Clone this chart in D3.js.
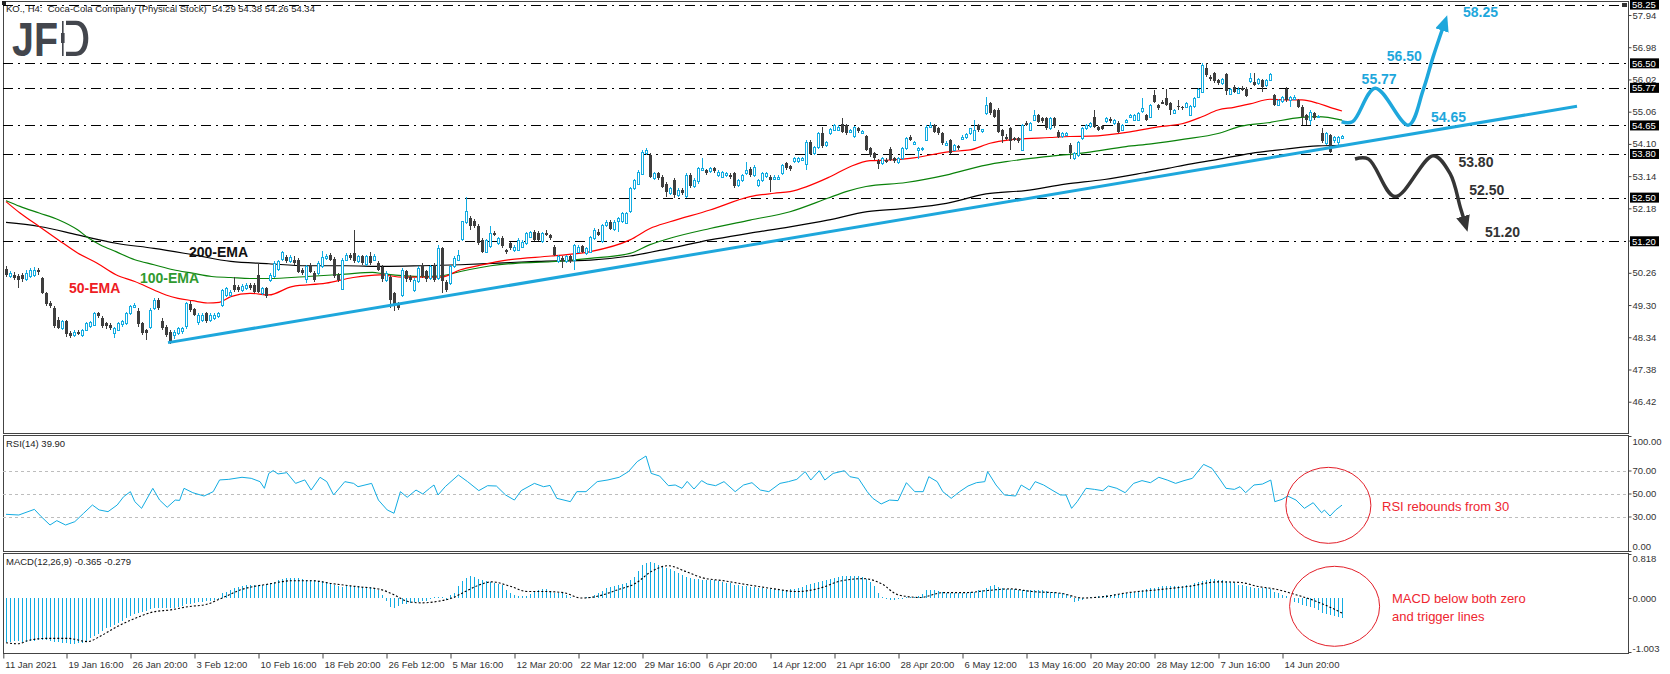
<!DOCTYPE html>
<html>
<head>
<meta charset="utf-8">
<script src="https://cdn.jsdelivr.net/npm/d3@7"></script>
<style>
  body { margin: 0; background: #fff; }
  svg { display: block; font-family: "Liberation Sans", Arial, sans-serif; }
</style>
</head>
<body>
<div id="chart"></div>
<script>
//========================================================================================================================
// KO H4 candles (index 0 = 11 Jan 2021)
const opens = [
  50.37,50.15,50.20,50.17,50.20,50.07,50.15,50.20,50.33,50.10,
  49.65,49.36,49.21,48.86,48.61,48.81,48.46,48.41,48.51,48.41,
  48.56,48.66,48.71,49.06,48.91,48.76,48.71,48.46,48.56,48.71,
  48.76,49.06,49.26,49.11,48.76,48.56,48.66,49.21,49.44,48.81,
  48.66,48.51,48.41,48.46,48.51,48.66,49.34,49.18,48.81,48.86,
  49.06,48.86,48.91,48.96,49.31,49.60,49.60,49.90,49.83,49.75,
  49.80,49.90,49.90,50.20,49.65,49.80,50.05,50.15,50.35,50.65,
  50.72,50.60,50.65,50.65,50.35,50.05,50.47,50.25,50.25,50.45,
  50.70,50.80,50.67,50.20,49.80,50.65,50.80,50.85,50.60,50.75,
  50.50,50.75,50.65,50.55,50.42,50.05,50.15,49.65,49.36,49.60,
  50.30,50.15,49.75,50.00,50.45,50.30,50.10,50.50,50.10,50.99,
  50.00,49.95,50.45,50.65,51.24,51.76,51.89,51.79,51.64,51.24,
  50.89,51.04,51.44,51.14,51.29,50.94,51.14,50.94,50.94,51.04,
  51.14,51.34,51.49,51.44,51.19,51.46,51.39,51.04,50.60,50.70,
  50.60,50.75,50.65,50.89,51.06,50.85,50.89,51.29,51.49,51.19,
  51.68,51.78,51.58,51.78,51.78,51.73,52.08,52.78,52.92,53.22,
  53.82,53.77,53.07,53.22,53.12,52.92,52.63,53.02,52.58,52.73,
  52.53,53.17,52.83,52.97,53.32,53.32,53.27,53.37,53.17,53.12,
  53.17,53.17,53.22,52.87,53.02,53.22,53.34,53.17,52.87,53.02,
  53.12,53.12,53.07,53.07,53.22,53.52,53.44,53.57,53.57,53.62,
  53.52,54.17,53.82,54.00,54.41,54.07,54.41,54.51,54.51,54.69,
  54.66,54.46,54.32,54.56,54.43,54.33,53.97,53.82,53.60,53.52,
  53.62,53.94,53.67,53.54,53.67,53.97,54.30,54.12,53.92,53.94,
  54.22,54.61,54.66,54.56,54.41,54.07,54.22,53.92,54.04,54.27,
  54.30,54.41,54.22,54.66,54.46,55.01,55.31,55.11,55.11,54.51,
  54.32,54.56,54.27,54.27,53.92,54.73,54.51,54.81,54.96,54.86,
  54.86,54.56,54.86,54.46,54.32,54.37,54.07,53.67,53.77,54.27,
  54.56,54.61,54.91,54.59,54.63,54.76,54.83,54.71,54.73,54.51,
  54.76,54.91,54.81,54.81,55.06,54.96,54.91,55.56,55.26,55.36,
  55.46,55.31,55.01,55.23,55.19,55.21,54.96,55.21,55.51,55.66,
  56.35,56.10,56.20,56.00,55.90,56.18,55.61,55.80,55.61,55.78,
  55.75,55.95,55.95,55.90,56.00,55.85,56.00,55.56,55.26,55.36,
  55.75,55.39,55.46,55.41,55.21,54.96,54.81,55.01,54.89,54.41,
  54.12,54.36,54.22,54.17,54.29
];
const highs = [
  50.45,50.30,50.28,50.22,50.26,50.35,50.40,50.42,50.40,50.15,
  49.70,49.42,49.26,48.95,48.85,48.85,48.52,48.55,48.56,48.60,
  48.80,48.82,49.10,49.08,48.96,48.80,48.75,48.66,48.80,48.86,
  49.10,49.30,49.36,49.20,48.80,48.60,49.20,49.50,49.50,48.90,
  48.70,48.56,48.56,48.66,48.66,49.40,49.42,49.22,49.05,49.05,
  49.10,49.06,49.05,49.10,49.78,49.85,49.75,50.15,49.90,49.92,
  49.95,49.95,49.95,50.55,49.85,49.85,50.25,50.60,50.65,50.92,
  50.80,50.78,50.75,50.70,50.40,50.50,50.55,50.30,50.60,50.90,
  50.82,50.85,50.72,50.25,50.70,50.85,50.85,51.54,50.80,50.80,
  50.80,50.89,50.82,50.60,50.48,50.30,50.20,49.70,49.40,50.40,
  50.35,50.20,50.10,50.45,50.55,50.35,50.50,50.55,51.09,51.04,
  50.05,50.50,50.75,50.94,51.79,52.53,51.95,51.85,51.70,51.30,
  51.28,51.64,51.50,51.33,51.35,50.98,51.18,51.10,51.30,51.25,
  51.48,51.52,51.55,51.50,51.48,51.55,51.42,51.10,50.80,50.75,
  50.80,50.80,51.12,51.10,51.10,51.02,51.36,51.60,51.56,51.72,
  51.82,51.83,51.82,51.92,52.06,52.08,52.83,53.06,53.31,53.92,
  53.98,53.82,53.27,53.26,53.18,52.98,52.82,53.08,52.78,52.78,
  53.22,53.22,53.07,53.40,53.67,53.36,53.42,53.42,53.32,53.30,
  53.26,53.24,53.26,53.06,53.20,53.57,53.40,53.46,53.06,53.26,
  53.26,53.16,53.16,53.16,53.50,53.57,53.48,53.72,53.72,53.72,
  54.22,54.22,54.04,54.45,54.61,54.20,54.56,54.68,54.65,54.86,
  54.70,54.54,54.62,54.61,54.52,54.38,54.02,53.86,53.64,53.70,
  53.67,54.02,53.72,53.70,54.02,54.32,54.36,54.20,54.00,54.00,
  54.66,54.76,54.70,54.60,54.45,54.18,54.26,54.10,54.08,54.36,
  54.42,54.58,54.81,54.70,54.55,55.51,55.36,55.15,55.16,54.55,
  54.40,54.60,54.32,54.32,54.70,54.78,54.74,55.11,55.00,54.90,
  54.90,54.90,54.90,54.50,54.44,54.46,54.12,53.86,54.20,54.60,
  54.70,54.75,55.10,54.63,54.67,54.90,54.90,54.85,54.78,54.70,
  54.84,55.00,55.00,55.05,55.46,55.00,55.30,55.71,55.30,55.40,
  55.73,55.35,55.14,55.41,55.24,55.36,55.26,55.50,55.78,56.52,
  56.52,56.15,56.24,56.04,56.05,56.22,55.78,55.84,55.80,55.82,
  55.79,56.20,56.20,56.06,56.04,56.04,56.22,55.60,55.44,55.52,
  55.80,55.52,55.55,55.45,55.25,55.00,55.10,55.05,54.96,54.56,
  54.45,54.40,54.34,54.35,54.38
];
const lows = [
  50.15,50.10,50.05,49.82,50.00,50.02,50.10,50.15,50.20,49.62,
  49.28,49.20,48.62,48.58,48.55,48.36,48.32,48.36,48.40,48.36,
  48.52,48.62,48.68,48.92,48.62,48.60,48.56,48.31,48.52,48.66,
  48.72,49.01,49.20,48.66,48.42,48.26,48.60,49.15,49.15,48.56,
  48.36,48.14,48.30,48.40,48.45,48.60,49.10,48.96,48.72,48.80,
  48.76,48.80,48.85,48.90,49.25,49.55,49.55,49.70,49.70,49.70,
  49.75,49.75,49.65,49.65,49.60,49.50,50.00,50.10,50.30,50.60,
  50.55,50.55,50.50,50.25,50.20,49.95,50.25,50.00,50.20,50.40,
  50.65,50.60,50.10,49.98,49.75,50.60,50.65,50.55,50.55,50.50,
  50.45,50.50,50.60,50.30,50.00,50.00,49.21,49.11,49.15,49.55,
  50.00,50.00,49.70,49.95,50.10,50.00,50.05,50.00,50.05,49.65,
  49.70,49.90,50.40,50.60,51.20,51.70,51.55,51.58,51.10,50.85,
  50.85,51.00,51.35,51.10,51.00,50.82,50.95,50.88,50.90,51.00,
  51.10,51.30,51.20,51.20,51.15,51.35,51.25,50.75,50.55,50.40,
  50.55,50.55,50.35,50.85,50.85,50.80,50.85,51.25,51.35,51.15,
  51.62,51.55,51.52,51.49,51.74,51.70,52.03,52.72,52.88,53.18,
  53.78,53.08,53.02,53.02,52.78,52.53,52.58,52.48,52.53,52.58,
  52.50,52.78,52.78,52.92,53.28,53.18,53.22,53.22,53.12,53.08,
  53.12,53.06,52.78,52.83,52.98,53.18,53.12,53.12,52.82,52.98,
  53.08,52.68,53.02,53.02,53.18,53.32,53.30,53.52,53.52,53.58,
  53.32,53.77,53.78,53.96,53.98,54.02,54.38,54.47,54.47,54.42,
  54.38,54.42,54.28,54.42,54.40,53.88,53.72,53.62,53.35,53.48,
  53.52,53.58,53.52,53.50,53.62,53.92,54.18,54.08,53.65,53.90,
  54.18,54.58,54.42,54.38,54.08,54.04,53.80,53.88,53.92,54.24,
  54.26,54.37,54.18,54.46,54.42,54.97,54.97,54.88,54.42,54.12,
  54.22,53.92,54.18,54.12,53.88,54.62,54.47,54.78,54.72,54.72,
  54.52,54.52,54.56,54.28,54.28,54.34,53.64,53.62,53.72,54.22,
  54.52,54.57,54.57,54.47,54.50,54.72,54.72,54.67,54.42,54.47,
  54.72,54.88,54.77,54.77,55.02,54.77,54.87,55.33,55.12,55.28,
  55.22,54.96,54.98,55.11,55.12,55.17,54.92,55.17,55.47,55.62,
  56.10,55.98,55.92,55.86,55.86,55.56,55.58,55.62,55.58,55.68,
  55.50,55.90,55.82,55.86,55.66,55.81,55.96,55.22,55.22,55.32,
  55.36,55.19,55.42,55.16,54.66,54.66,54.66,54.82,54.86,54.14,
  54.08,53.82,54.12,54.02,54.26
];
const closes = [
  50.20,50.25,50.10,50.05,50.07,50.25,50.33,50.35,50.26,49.65,
  49.31,49.26,48.66,48.61,48.81,48.41,48.36,48.51,48.45,48.56,
  48.76,48.78,49.06,48.96,48.66,48.66,48.61,48.61,48.76,48.81,
  49.06,49.26,49.31,48.71,48.46,48.46,49.16,49.46,49.21,48.61,
  48.41,48.21,48.51,48.61,48.61,49.36,49.16,49.01,49.01,49.01,
  48.81,49.01,49.01,49.06,49.75,49.80,49.70,49.75,49.75,49.87,
  49.90,49.80,49.70,49.70,49.80,49.55,50.20,50.55,50.60,50.87,
  50.60,50.73,50.55,50.30,50.25,50.45,50.30,50.05,50.55,50.73,
  50.77,50.65,50.15,50.05,50.65,50.80,50.70,50.60,50.75,50.55,
  50.75,50.55,50.77,50.35,50.05,50.25,49.46,49.31,49.21,50.35,
  50.05,50.05,50.05,50.40,50.15,50.05,50.45,50.05,50.99,50.00,
  49.75,50.45,50.70,50.80,51.79,52.09,51.64,51.64,51.14,50.89,
  51.24,51.44,51.39,51.29,51.04,50.89,50.99,51.04,51.24,51.19,
  51.44,51.49,51.24,51.24,51.44,51.39,51.29,50.80,50.75,50.60,
  50.75,50.60,51.09,51.04,50.89,50.99,51.34,51.54,51.39,51.68,
  51.78,51.58,51.78,51.88,52.03,52.03,52.78,53.02,53.27,53.87,
  53.92,53.12,53.22,53.07,52.83,52.68,52.78,52.58,52.73,52.63,
  53.17,52.83,53.02,53.37,53.37,53.22,53.37,53.27,53.27,53.27,
  53.22,53.12,52.83,53.02,53.17,53.32,53.17,53.42,53.02,53.22,
  53.22,53.02,53.12,53.12,53.47,53.37,53.34,53.67,53.67,53.67,
  54.17,53.82,54.00,54.41,54.02,54.17,54.53,54.66,54.61,54.46,
  54.41,54.51,54.59,54.46,54.49,53.92,53.77,53.67,53.52,53.67,
  53.57,53.62,53.57,53.67,53.97,54.27,54.22,54.17,53.97,53.97,
  54.61,54.66,54.46,54.41,54.12,54.14,53.82,54.07,53.97,54.32,
  54.40,54.56,54.51,54.51,54.53,55.26,55.01,54.91,54.46,54.32,
  54.27,54.17,54.22,54.17,54.66,54.66,54.71,54.96,54.76,54.76,
  54.56,54.86,54.61,54.32,54.41,54.43,53.82,53.82,54.17,54.56,
  54.66,54.71,54.61,54.51,54.53,54.86,54.76,54.81,54.46,54.66,
  54.81,54.96,54.96,55.01,55.16,54.81,55.26,55.36,55.16,55.31,
  55.26,55.11,55.11,55.19,55.16,55.33,55.23,55.46,55.75,56.45,
  56.15,56.05,55.95,55.90,56.02,55.66,55.75,55.66,55.73,55.71,
  55.53,56.05,55.85,56.02,55.80,56.00,56.18,55.26,55.41,55.49,
  55.41,55.49,55.51,55.21,54.91,54.81,55.06,54.86,54.93,54.17,
  54.41,53.86,54.30,54.31,54.34
];

// moving averages, sampled along the lines as [bar, price]
const ema50 = [[0,52.38],[3.5,52.04],[8.3,51.64],[13.1,51.24],[17.9,50.85],[22.7,50.55],[27.5,50.2],[32.2,50.0],[37,49.75],[40,49.6],[43,49.5],[46.6,49.43],[50.4,49.36],[53.3,49.38],[56.2,49.55],[61,49.65],[65.7,49.6],[71.5,49.85],[80,49.95],[86.8,50.12],[93.5,50.2],[99.2,50.13],[108.8,50.13],[113.6,50.35],[118.3,50.48],[126,50.65],[136.3,50.76],[146.1,50.89],[156,51.24],[161,51.58],[166,51.78],[176,52.13],[186,52.53],[192,52.63],[196,52.68],[206,53.12],[211,53.42],[216,53.6],[221,53.62],[226,53.67],[236,53.87],[241,53.92],[246,54.12],[251,54.22],[261,54.29],[266,54.32],[271,54.33],[281,54.46],[288,54.61],[294,54.7],[299,54.91],[303,55.11],[307,55.19],[311,55.29],[316,55.43],[320,55.41],[324,55.41],[328,55.31],[331,55.19],[334,55.08]];
const ema100 = [[0,52.41],[3.5,52.24],[8.3,52.04],[13.1,51.84],[17.9,51.54],[20.8,51.28],[23.6,51.09],[27.5,50.89],[32.2,50.65],[37,50.5],[41.8,50.35],[46.6,50.25],[51.4,50.15],[56.2,50.12],[61,50.09],[65.7,50.09],[75.3,50.15],[84.9,50.22],[91.6,50.27],[94.4,50.23],[104,50.15],[108.8,50.17],[113.6,50.3],[121.2,50.47],[128,50.55],[136.3,50.59],[146,50.69],[156,50.84],[161,51.1],[166,51.29],[176,51.58],[186,51.83],[196,52.08],[205.4,52.48],[210,52.68],[215,52.83],[225,52.95],[235,53.17],[245,53.47],[250,53.57],[260,53.72],[270,53.84],[280,54.02],[286.3,54.1],[294.6,54.24],[303,54.41],[308.8,54.63],[315.4,54.73],[323.8,54.89],[328,54.91],[334,54.81]];
const ema200 = [[0,51.76],[8.3,51.64],[17.9,51.39],[27.5,51.14],[37,50.99],[46.6,50.8],[56.2,50.6],[65.7,50.53],[75.3,50.47],[84.9,50.47],[94.4,50.45],[104,50.47],[113.6,50.5],[123.1,50.55],[132.7,50.6],[146.1,50.64],[156,50.76],[166,50.99],[176,51.24],[186,51.44],[196,51.63],[205.4,51.83],[215.3,52.08],[225.2,52.18],[235.1,52.33],[245,52.61],[254.8,52.71],[264.8,52.9],[274.6,53.04],[284.5,53.24],[290.5,53.37],[294.6,53.47],[303,53.64],[311.3,53.82],[319.6,53.94],[328,54.04],[334,54.06]];

// RSI(14), sampled along the line as [bar, value]
const rsi = [[0,31.9],[3.2,31.3],[5.5,34.2],[7.1,36.2],[8.8,29.9],[11,22.6],[12.7,26.4],[14.9,22.6],[17.2,25.5],[19.4,32.8],[21.6,40],[23.3,35.7],[25.5,34.2],[27.8,40],[29.4,47.2],[31.1,51.6],[32.2,42.9],[33.9,37.1],[36.7,54.5],[38.4,44.3],[40.3,38],[42.3,44.3],[43.4,44],[44.5,54.5],[46.7,50.7],[49.5,47.8],[51.8,51.6],[53.4,61.8],[55.7,62.3],[59,64.1],[61.3,63.2],[63.5,60.3],[64.6,54.5],[65.7,67.5],[66.8,69.9],[68,67],[70.2,68.1],[72.4,58.8],[74.7,61.8],[76.3,53],[78.5,64.1],[80.2,60.3],[81.9,48.7],[84.7,60.3],[86.9,58.8],[88,55.9],[91.4,58.8],[93.1,44.3],[95.3,35.7],[97,32.8],[98.6,51.6],[100.3,46.7],[102.5,53],[104.2,49.6],[105.9,54.5],[107,57.4],[108,48.7],[109.8,55.9],[113.1,66.1],[115.4,60.3],[118.2,52.5],[120.4,56.8],[122.6,56.5],[124.9,48.7],[127.1,44.3],[128.8,52.5],[132.1,58.8],[134.4,55.9],[136,57],[137.7,45.8],[141.1,42.9],[142.7,51.6],[145,51.6],[147.8,60.3],[150.5,61.8],[153.3,64.1],[155.6,69],[157.8,77.7],[160,82.6],[161.3,67.5],[163.4,65.2],[165.6,56.8],[167.3,57.4],[169,54.5],[170.3,60.5],[172,53.9],[173.9,61.2],[175.3,58.3],[177.4,56.8],[179.5,60.3],[182.3,51.6],[184.4,57.4],[186.5,59.4],[188.6,53],[190.7,51.6],[193.5,58.8],[195.6,60.3],[197.7,62.3],[199.8,69],[201.2,61.7],[203.3,69.8],[204.7,61.7],[206.8,67.5],[209.6,69.8],[211,64.6],[213.1,63.2],[215.3,51.6],[216.7,45.8],[218.8,40.9],[220.9,44.3],[223,43.8],[225.1,59.4],[227.2,51.6],[229.3,51.6],[230.7,64.6],[232.8,60.3],[234.2,51.6],[236.3,45.8],[238.4,51.6],[240.5,56.5],[242.6,59.4],[244.7,60.3],[245.4,69],[247.5,57.4],[249.6,48.7],[252.4,47.8],[253.8,57.4],[255.9,53],[257.3,60.3],[259.4,57.4],[261.5,53],[263.6,48.7],[265,48.7],[266.4,37.1],[267.8,42.9],[270,54.5],[272.1,53.6],[274.2,52.4],[275.6,56.5],[277.7,54.5],[279.8,50.7],[281.9,58.8],[284,61.2],[286.1,59.4],[288.2,64.1],[290.3,61.7],[292.4,58.8],[294.5,61.2],[296.6,63.2],[299.4,75.3],[301.5,71.9],[303.6,61.7],[305,54.5],[307.1,53.6],[308.5,55.9],[309.9,50.7],[312,57.4],[314.1,58.2],[316.2,61.7],[317.2,42.9],[319,44.9],[320.4,47.8],[322.5,44.3],[324.6,37.1],[326.8,42],[328.9,33.3],[329.6,35.6],[331,30.4],[332.4,35.6],[334,39.9]];

// MACD(12,26,9) main value per bar (histogram) and signal line samples
const macdMain = [
  -0.81,-0.81,-0.80,-0.80,-0.81,-0.81,-0.80,-0.79,-0.78,-0.78,
  -0.78,-0.79,-0.81,-0.82,-0.83,-0.84,-0.85,-0.85,-0.84,-0.83,
  -0.81,-0.75,-0.70,-0.66,-0.61,-0.56,-0.53,-0.50,-0.47,-0.42,
  -0.38,-0.33,-0.29,-0.27,-0.26,-0.24,-0.21,-0.19,-0.19,-0.19,
  -0.19,-0.19,-0.18,-0.16,-0.14,-0.12,-0.11,-0.09,-0.08,-0.07,
  -0.06,-0.05,-0.04,-0.02,0.09,0.11,0.14,0.18,0.20,0.23,
  0.24,0.24,0.24,0.24,0.25,0.26,0.27,0.30,0.34,0.36,
  0.38,0.38,0.38,0.37,0.35,0.34,0.33,0.33,0.32,0.32,
  0.30,0.27,0.25,0.23,0.21,0.22,0.22,0.22,0.22,0.21,
  0.21,0.20,0.18,0.14,0.06,-0.05,-0.16,-0.19,-0.14,-0.12,
  -0.11,-0.10,-0.08,-0.07,-0.06,-0.06,-0.02,0.02,0.01,0.01,
  -0.03,0.06,0.09,0.22,0.32,0.37,0.40,0.39,0.36,0.33,
  0.32,0.30,0.28,0.26,0.24,0.15,0.09,0.06,0.04,0.04,
  0.04,0.08,0.13,0.15,0.16,0.16,0.12,0.09,0.10,0.11,
  0.06,0.01,0.00,0.00,0.00,0.01,0.01,0.05,0.09,0.13,
  0.18,0.20,0.22,0.24,0.26,0.27,0.33,0.39,0.50,0.62,
  0.66,0.67,0.66,0.62,0.59,0.56,0.53,0.50,0.46,0.43,
  0.39,0.38,0.36,0.35,0.34,0.33,0.33,0.33,0.31,0.30,
  0.28,0.27,0.25,0.24,0.23,0.22,0.21,0.20,0.19,0.18,
  0.17,0.17,0.16,0.15,0.15,0.15,0.16,0.17,0.18,0.21,
  0.25,0.26,0.28,0.29,0.31,0.34,0.36,0.38,0.39,0.40,
  0.40,0.40,0.40,0.40,0.39,0.36,0.30,0.22,0.09,0.01,
  -0.02,-0.03,-0.03,-0.02,-0.01,0.01,0.01,0.02,0.04,0.08,
  0.14,0.14,0.14,0.13,0.12,0.10,0.10,0.10,0.10,0.10,
  0.10,0.11,0.12,0.14,0.15,0.18,0.22,0.25,0.21,0.18,
  0.17,0.16,0.16,0.15,0.15,0.15,0.15,0.14,0.14,0.14,
  0.13,0.12,0.11,0.10,0.10,0.07,0.04,-0.07,-0.06,-0.03,
  0.00,0.01,0.01,0.03,0.04,0.05,0.06,0.07,0.07,0.08,
  0.09,0.10,0.11,0.12,0.14,0.16,0.18,0.19,0.21,0.22,
  0.22,0.22,0.22,0.22,0.23,0.24,0.25,0.27,0.29,0.32,
  0.34,0.36,0.35,0.34,0.33,0.31,0.29,0.27,0.25,0.24,
  0.22,0.20,0.18,0.18,0.18,0.18,0.17,0.12,0.09,0.06,
  0.03,-0.02,-0.07,-0.10,-0.13,-0.15,-0.17,-0.19,-0.23,-0.27,
  -0.30,-0.32,-0.34,-0.35,-0.365
];
const macdSignal = [[0,-0.83],[3,-0.85],[5.5,-0.79],[10,-0.75],[15.5,-0.75],[20.5,-0.81],[23.3,-0.72],[27.8,-0.53],[32.2,-0.38],[36.7,-0.26],[41.2,-0.22],[45.6,-0.16],[50,-0.12],[53.4,-0.02],[59,0.16],[65.7,0.26],[71.3,0.32],[76.9,0.32],[81.3,0.27],[88,0.21],[93.6,0.16],[97,0.06],[100.3,-0.06],[103.7,-0.09],[108.1,-0.06],[111.5,0.0],[114.8,0.12],[118.2,0.24],[121.5,0.30],[126,0.22],[130.4,0.12],[134.9,0.12],[139.4,0.10],[143.8,0.0],[148.3,0.04],[152.8,0.15],[157.3,0.27],[161.5,0.50],[165.5,0.60],[169.7,0.50],[173.9,0.38],[179.5,0.32],[185.1,0.25],[192.1,0.17],[197.7,0.12],[203.3,0.18],[208.9,0.32],[214.5,0.36],[218.8,0.27],[223,0.06],[228.6,0.01],[234.2,0.10],[239.8,0.10],[245.4,0.14],[251,0.17],[256.6,0.12],[263.6,0.09],[269.2,0.0],[274.9,0.03],[280.5,0.10],[287.5,0.15],[295.9,0.22],[302.9,0.30],[308.5,0.29],[312.7,0.22],[318.3,0.15],[322.5,0.06],[326.8,-0.04],[331,-0.17],[334,-0.279]];

// horizontal levels and axis ticks
const levels = [58.25, 56.50, 55.77, 54.65, 53.80, 52.50, 51.20];
const priceTicks = [57.94, 56.98, 56.02, 55.06, 54.10, 53.14, 52.18, 51.22, 50.26, 49.30, 48.34, 47.38, 46.42];
const timeTickBars = [-0.8, 15, 31, 47, 63, 79, 95, 111, 127, 143, 159, 175, 191, 207, 223, 239, 255, 271, 287, 303, 319];
const timeLabels = ["11 Jan 2021", "19 Jan 16:00", "26 Jan 20:00", "3 Feb 12:00", "10 Feb 16:00", "18 Feb 20:00", "26 Feb 12:00",
  "5 Mar 16:00", "12 Mar 20:00", "22 Mar 12:00", "29 Mar 16:00", "6 Apr 20:00", "14 Apr 12:00", "21 Apr 16:00",
  "28 Apr 20:00", "6 May 12:00", "13 May 16:00", "20 May 20:00", "28 May 12:00", "7 Jun 16:00", "14 Jun 20:00"];

// drawn annotations: trend line and the two scenario arrows, as [bar, price]
const trendLine = [[40.5, 48.18], [392.75, 55.22]];
const bullPath = [[333.9,54.76],[336.6,54.76],[342.3,55.76],[350.6,54.66],[354.3,55.71],[356.8,56.70],[359.4,57.62]];
const bearPath = [[337.25,53.65],[340.6,53.65],[347.25,52.53],[356.8,53.75],[361,53.22],[363.6,52.2],[364.6,51.8]];
const bullLabels = [["58.25", 364.25, 57.89], ["56.50", 345.2, 56.57], ["55.77", 338.9, 55.88], ["54.65", 356.25, 54.76]];
const bearLabels = [["53.80", 363.1, 53.40], ["52.50", 365.8, 52.58], ["51.20", 369.75, 51.32]];
const emaLabels = [["200-EMA", 45.75, 50.73, "#111"], ["100-EMA", 33.5, 49.96, "#2f9a2f"], ["50-EMA", 15.75, 49.66, "#ee1c24"]];

//========================================================================================================================
const W = 1670, H = 674;
const left = 3, right = 1628;
const mainP = { top: 1, bottom: 433 }, rsiP = { top: 435, bottom: 551 }, macdP = { top: 553, bottom: 653 };
const cyan = "#12ace2", dark = "#3e3e3e", blue = "#1ea7dc";

const svg = d3.select("#chart").append("svg").attr("width", W).attr("height", H);
svg.append("rect").attr("width", W).attr("height", H).attr("fill", "#fff");

const x = d3.scaleLinear().domain([0, 334]).range([6, 1342]);
const y = d3.scaleLinear().domain([58.357, 45.488]).range([1, 433]);
const yRsi = d3.scaleLinear().domain([0, 100]).range([551, 436]);
const yMacd = d3.scaleLinear().domain([-1.003, 0.818]).range([652, 554]);

svg.append("defs").append("clipPath").attr("id", "mainClip")
  .append("rect").attr("x", left).attr("y", mainP.top).attr("width", right - left).attr("height", mainP.bottom - mainP.top);

const defs = svg.select("defs");
[["arrowBlue", blue], ["arrowDark", "#353535"]].forEach(([id, col]) => {
  defs.append("marker").attr("id", id).attr("viewBox", "0 0 16 14")
    .attr("markerUnits", "userSpaceOnUse").attr("markerWidth", 16).attr("markerHeight", 14)
    .attr("refX", 5).attr("refY", 7).attr("orient", "auto")
    .append("path").attr("d", "M0,0 L16,7 L0,14 Z").attr("fill", col);
});

//========================================================================================================================
// panel frames
[mainP, rsiP, macdP].forEach(p => {
  svg.append("rect").attr("x", left + 0.5).attr("y", p.top + 0.5)
    .attr("width", right - left).attr("height", p.bottom - p.top)
    .attr("fill", "none").attr("stroke", "#444").attr("stroke-width", 1);
});

const plot = svg.append("g").attr("clip-path", "url(#mainClip)");

// dash-dot support/resistance levels
plot.selectAll(".level").data(levels).enter().append("line")
  .attr("x1", left).attr("x2", right)
  .attr("y1", d => Math.round(y(d)) + 0.5).attr("y2", d => Math.round(y(d)) + 0.5)
  .attr("stroke", "#000").attr("stroke-width", 1).attr("stroke-dasharray", "10,5,2,5");

// moving averages
const emaLine = d3.line().x(d => x(d[0])).y(d => y(d[1])).curve(d3.curveMonotoneX);
plot.append("path").datum(ema200).attr("d", emaLine).attr("fill", "none").attr("stroke", "#000").attr("stroke-width", 1.2);
plot.append("path").datum(ema100).attr("d", emaLine).attr("fill", "none").attr("stroke", "#0a820a").attr("stroke-width", 1.2);
plot.append("path").datum(ema50).attr("d", emaLine).attr("fill", "none").attr("stroke", "#f00").attr("stroke-width", 1.2);

// candles
const idx = d3.range(closes.length);
plot.selectAll(".wick").data(idx).enter().append("line")
  .attr("x1", i => x(i) + 0.5).attr("x2", i => x(i) + 0.5)
  .attr("y1", i => y(highs[i])).attr("y2", i => y(lows[i]))
  .attr("stroke", i => closes[i] >= opens[i] ? cyan : dark).attr("stroke-width", 1)
  .attr("shape-rendering", "crispEdges");
plot.selectAll(".body").data(idx).enter().append("rect")
  .attr("x", i => closes[i] >= opens[i] ? x(i) - 0.5 : x(i) - 1)
  .attr("y", i => Math.round(y(Math.max(opens[i], closes[i]))) + (closes[i] >= opens[i] ? 0.5 : 0))
  .attr("width", i => closes[i] >= opens[i] ? 2 : 3)
  .attr("height", i => Math.max(1, Math.round(Math.abs(y(opens[i]) - y(closes[i])))))
  .attr("fill", i => closes[i] >= opens[i] ? "#fff" : dark)
  .attr("stroke", i => closes[i] >= opens[i] ? cyan : "none")
  .attr("shape-rendering", "crispEdges");

// trend line
plot.append("line")
  .attr("x1", x(trendLine[0][0])).attr("y1", y(trendLine[0][1]))
  .attr("x2", x(trendLine[1][0])).attr("y2", y(trendLine[1][1]))
  .attr("stroke", blue).attr("stroke-width", 3);

// scenario arrows
const pathLine = d3.line().x(d => x(d[0])).y(d => y(d[1])).curve(d3.curveCatmullRom.alpha(0.5));
plot.append("path").datum(bullPath).attr("d", pathLine).attr("fill", "none")
  .attr("stroke", blue).attr("stroke-width", 3.5).attr("marker-end", "url(#arrowBlue)");
plot.append("path").datum(bearPath).attr("d", pathLine).attr("fill", "none")
  .attr("stroke", "#353535").attr("stroke-width", 3.5).attr("marker-end", "url(#arrowDark)");

plot.selectAll(".bullLbl").data(bullLabels).enter().append("text")
  .attr("x", d => x(d[1])).attr("y", d => y(d[2])).text(d => d[0])
  .attr("fill", blue).style("font-size", "14px").style("font-weight", "bold");
plot.selectAll(".bearLbl").data(bearLabels).enter().append("text")
  .attr("x", d => x(d[1])).attr("y", d => y(d[2])).text(d => d[0])
  .attr("fill", "#333").style("font-size", "14px").style("font-weight", "bold");
plot.selectAll(".emaLbl").data(emaLabels).enter().append("text")
  .attr("x", d => x(d[1])).attr("y", d => y(d[2])).text(d => d[0])
  .attr("fill", d => d[3]).style("font-size", "14px").style("font-weight", "bold");

//========================================================================================================================
// header + logo
svg.append("rect").attr("x", 2).attr("y", 1).attr("width", 4).attr("height", 4).attr("fill", "#222");
svg.append("rect").attr("x", 1622).attr("y", 3).attr("width", 5).attr("height", 4).attr("fill", "#333");
svg.append("text").attr("x", 6).attr("y", 12).attr("fill", "#222").style("font-size", "9.5px")
  .style("white-space", "pre").text("KO., H4:  Coca-Cola Company (Physical Stock)  54.29 54.38 54.26 54.34");

const logo = svg.append("g").attr("fill", "#43464d");
logo.append("text").attr("x", 12).attr("y", 56).attr("textLength", 46).attr("lengthAdjust", "spacingAndGlyphs")
  .style("font-size", "49px").style("font-weight", "bold").text("JF");
logo.append("rect").attr("x", 62).attr("y", 21).attr("width", 1.6).attr("height", 35);
logo.append("rect").attr("x", 61).attr("y", 33).attr("width", 3.6).attr("height", 10);
logo.append("path").attr("d", "M66,20.7 L76,20.7 C84,20.7 88.3,28 88.3,38.3 C88.3,48.6 84,56 76,56 L66,56 L66,51.7 L75.5,51.7 C80.5,51.7 83.3,46 83.3,38.3 C83.3,30.6 80.5,25 75.5,25 L66,25 Z");

//========================================================================================================================
// price axis
const priceAxis = svg.append("g").attr("transform", `translate(${right + 0.5},0)`)
  .call(d3.axisRight(y).tickValues(priceTicks).tickSize(3).tickFormat(d => d.toFixed(2)));
priceAxis.select(".domain").remove();
priceAxis.selectAll("line").attr("stroke", "#444");
priceAxis.selectAll("text").attr("x", 4).attr("fill", "#333").style("font-size", "9.5px").style("font-family", "Liberation Sans, Arial");

const tags = svg.append("g");
tags.selectAll("rect").data(levels).enter().append("rect")
  .attr("x", right + 2).attr("y", d => y(d) - 5).attr("width", 29).attr("height", 10).attr("fill", "#000");
tags.selectAll("text").data(levels).enter().append("text")
  .attr("x", right + 4).attr("y", d => y(d)).attr("dy", "0.35em").text(d => d.toFixed(2))
  .attr("fill", "#fff").style("font-size", "9.5px");

//========================================================================================================================
// RSI panel
svg.selectAll(".rsiLvl").data([70, 50, 30]).enter().append("line")
  .attr("x1", left).attr("x2", right).attr("y1", d => Math.round(yRsi(d)) + 0.5).attr("y2", d => Math.round(yRsi(d)) + 0.5)
  .attr("stroke", "#bdbdbd").attr("stroke-dasharray", "3,3");
svg.append("path").datum(rsi)
  .attr("d", d3.line().x(d => x(d[0])).y(d => yRsi(d[1])))
  .attr("fill", "none").attr("stroke", cyan).attr("stroke-width", 1);
svg.append("text").attr("x", 6).attr("y", 447).attr("fill", "#222").style("font-size", "9.5px").text("RSI(14) 39.90");

const rsiAxis = svg.append("g").attr("transform", `translate(${right + 0.5},0)`)
  .call(d3.axisRight(yRsi).tickValues([100, 70, 50, 30, 0]).tickSize(3).tickFormat(d => d.toFixed(2)));
rsiAxis.select(".domain").remove();
rsiAxis.selectAll("line").attr("stroke", "#444");
rsiAxis.selectAll("text").attr("x", 4).attr("fill", "#333").style("font-size", "9.5px").style("font-family", "Liberation Sans, Arial")
  .attr("dy", d => d === 100 ? "0.85em" : d === 0 ? "-0.2em" : "0.32em");

// note
svg.append("ellipse").attr("cx", x(330.6)).attr("cy", yRsi(39.7)).attr("rx", 42.5).attr("ry", 38)
  .attr("fill", "none").attr("stroke", "#e3202a").attr("stroke-width", 1);
svg.append("text").attr("x", x(344)).attr("y", yRsi(34.8)).attr("fill", "#ee2630").style("font-size", "13px")
  .text("RSI rebounds from 30");

//========================================================================================================================
// MACD panel
svg.selectAll(".hist").data(macdMain).enter().append("line")
  .attr("x1", (d, i) => x(i) + 0.5).attr("x2", (d, i) => x(i) + 0.5)
  .attr("y1", yMacd(0)).attr("y2", d => yMacd(d))
  .attr("stroke", cyan).attr("stroke-width", 1).attr("shape-rendering", "crispEdges");
svg.append("path").datum(macdSignal)
  .attr("d", d3.line().x(d => x(d[0])).y(d => yMacd(d[1])).curve(d3.curveMonotoneX))
  .attr("fill", "none").attr("stroke", "#000").attr("stroke-width", 1.1).attr("stroke-dasharray", "2,2");
svg.append("text").attr("x", 6).attr("y", 565).attr("fill", "#222").style("font-size", "9.5px").text("MACD(12,26,9) -0.365 -0.279");

const macdAxis = svg.append("g").attr("transform", `translate(${right + 0.5},0)`)
  .call(d3.axisRight(yMacd).tickValues([0.818, 0, -1.003]).tickSize(3).tickFormat(d => d.toFixed(3)));
macdAxis.select(".domain").remove();
macdAxis.selectAll("line").attr("stroke", "#444");
macdAxis.selectAll("text").attr("x", 4).attr("fill", "#333").style("font-size", "9.5px").style("font-family", "Liberation Sans, Arial")
  .attr("dy", d => d > 0.5 ? "0.75em" : d < -0.5 ? "-0.1em" : "0.32em");

svg.append("ellipse").attr("cx", x(332.15)).attr("cy", yMacd(-0.154)).attr("rx", 45).attr("ry", 40)
  .attr("fill", "none").attr("stroke", "#e3202a").attr("stroke-width", 1);
svg.append("text").attr("x", x(346.5)).attr("y", 603).attr("fill", "#ee2630").style("font-size", "13px").text("MACD below both zero");
svg.append("text").attr("x", x(346.5)).attr("y", 621).attr("fill", "#ee2630").style("font-size", "13px").text("and trigger lines");

//========================================================================================================================
// time axis
const timeAxis = svg.append("g").attr("transform", `translate(0,${macdP.bottom + 0.5})`)
  .call(d3.axisBottom(x).tickValues(timeTickBars).tickSize(5).tickFormat((d, i) => timeLabels[i]));
timeAxis.select(".domain").remove();
timeAxis.selectAll("line").attr("stroke", "#444").attr("transform", "translate(0.5,0)");
timeAxis.selectAll("text").attr("x", 2).attr("text-anchor", "start").attr("fill", "#333")
  .style("font-size", "9.5px").style("font-family", "Liberation Sans, Arial");
</script>
</body>
</html>
